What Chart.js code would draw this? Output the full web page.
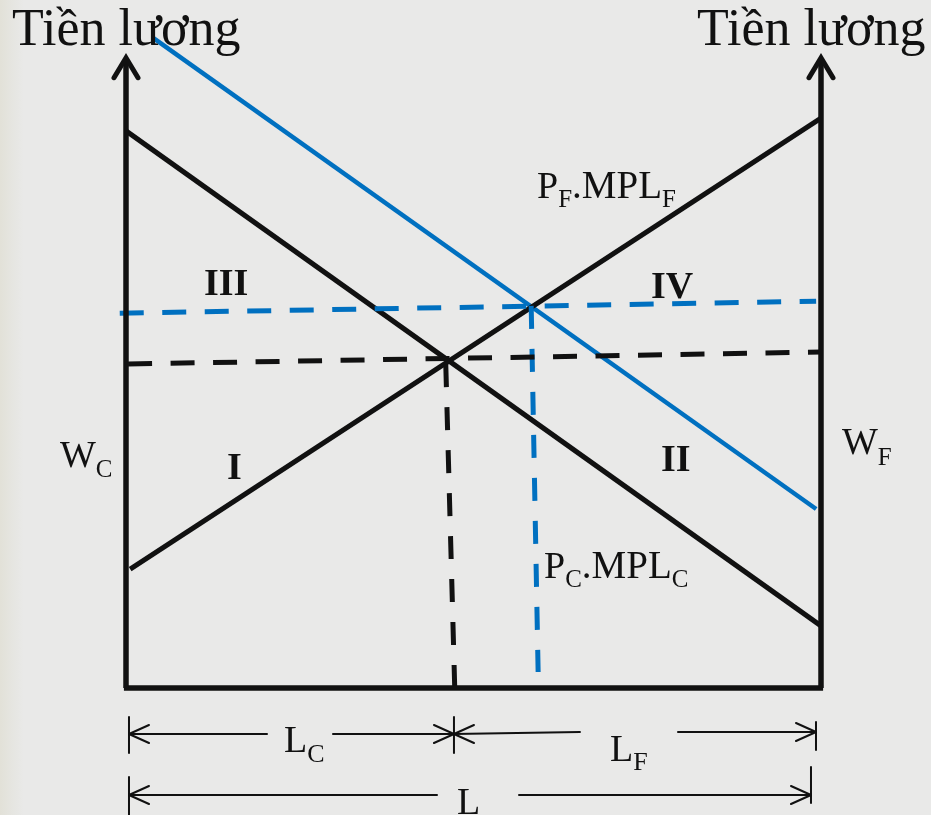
<!DOCTYPE html>
<html>
<head>
<meta charset="utf-8">
<script src="https://cdn.jsdelivr.net/npm/chart.js@4.4.0/dist/chart.umd.min.js"></script>
<style>
  html, body { margin: 0; padding: 0; }
  body {
    width: 931px; height: 815px; overflow: hidden;
    background: linear-gradient(to right, #e2e1d8 0px, #e6e6e2 14px, #e9e9e8 24px, #e9e9e8 100%);
  }
  canvas { display: block; }
</style>
</head>
<body>
<canvas id="labourChart" width="931" height="815"></canvas>
<script>
// x: labour (0 = left axis, 100 = total L at right axis), y: wage
const demandCX = [0, 100];          // P_C.MPL_C (black, falling)
const demandCY = [83.4, 9.3];
const demandFX = [0.6, 100];        // P_F.MPL_F (black, rising, measured from right)
const demandFY = [17.8, 85.3];
const demandC2X = [3.8, 99.3];      // shifted P_C.MPL_C (blue)
const demandC2Y = [97.4, 26.8];
const wageEqX = [0.3, 100];         // first equilibrium wage (black dashed)
const wageEqY = [48.5, 50.3];
const wageEq2X = [-0.9, 99.3];      // new equilibrium wage (blue dashed)
const wageEq2Y = [56.1, 57.9];
const labourEqX = [47.3, 46.0];     // L_C split (black dashed), drawn from the axis up
const labourEqY = [0, 48.8];
const labourEq2X = [58.3, 59.3];    // new split (blue dashed)
const labourEq2Y = [57.2, 2.4];
const axisTop = 94.8;

// dimension arrows under the axis (data units)
const dimLeft = 0.43, dimMid = 47.19, dimRight = 99.28, dimRight2 = 98.56;
const dimRow1 = -6.89, dimRow1b = -6.59, dimRow2 = -16.02;

const BLACK = "#111111";
const BLUE = "#0070c0";
const SERIF = '"Liberation Serif", "Times New Roman", serif';

const pts = (xs, ys) => xs.map((x, i) => ({ x: x, y: ys[i] }));

function lineSet(xs, ys, color, width, dash) {
  return {
    data: pts(xs, ys),
    showLine: true,
    borderColor: color,
    borderWidth: width,
    borderDash: dash || [],
    pointRadius: 0,
    fill: false,
    clip: false,
    borderCapStyle: "butt"
  };
}

const datasets = [
  lineSet([0, 0], [0, axisTop - 0.5], BLACK, 5.5),
  lineSet([100, 100], [0, axisTop - 0.5], BLACK, 5.5),
  lineSet([-0.3, 100.3], [0, 0], BLACK, 5.5),
  lineSet(wageEqX, wageEqY, BLACK, 5, [24, 18.5]),
  lineSet(labourEqX, labourEqY, BLACK, 5, [23, 20]),
  lineSet(wageEq2X, wageEq2Y, BLUE, 5, [24, 18.5]),
  lineSet(labourEq2X, labourEq2Y, BLUE, 5, [23, 20]),
  lineSet(demandCX, demandCY, BLACK, 5),
  lineSet(demandFX, demandFY, BLACK, 5),
  lineSet(demandC2X, demandC2Y, BLUE, 4.5)
];

function rich(ctx, x, y, parts) {
  parts.forEach(p => {
    ctx.font = (p.bold ? "bold " : "") + p.size + "px " + SERIF;
    ctx.fillText(p.t, x, y + (p.dy || 0));
    x += ctx.measureText(p.t).width;
  });
}

const annotations = {
  id: "annotations",
  afterDatasetsDraw(chart) {
    const ctx = chart.ctx;
    const xs = chart.scales.x, ys = chart.scales.y;
    const X = v => xs.getPixelForValue(v);
    const Y = v => ys.getPixelForValue(v);
    ctx.save();
    ctx.strokeStyle = BLACK;
    ctx.fillStyle = BLACK;
    ctx.lineCap = "round";
    ctx.lineJoin = "miter";

    // axis arrowheads
    ctx.lineWidth = 5;
    [0, 100].forEach(v => {
      const tx = X(v), ty = Y(axisTop) + 3;
      ctx.beginPath();
      ctx.moveTo(tx - 12, ty + 20);
      ctx.lineTo(tx, ty);
      ctx.lineTo(tx + 12, ty + 20);
      ctx.stroke();
    });

    // dimension lines
    ctx.lineJoin = "round";
    ctx.lineWidth = 2;
    const seg = (x1, y1, x2, y2) => {
      ctx.beginPath(); ctx.moveTo(X(x1), Y(y1)); ctx.lineTo(X(x2), Y(y2)); ctx.stroke();
    };
    const tick = (x, y1, y2) => seg(x, y1, x, y2);
    const head = (x, y, dir) => {
      const px = X(x), py = Y(y);
      ctx.beginPath();
      ctx.moveTo(px + dir * 20, py - 9);
      ctx.lineTo(px, py);
      ctx.lineTo(px + dir * 20, py + 9);
      ctx.stroke();
    };
    tick(dimLeft, -4.34, -9.73);
    tick(dimMid, -4.34, -9.73);
    tick(dimRight, -5.09, -9.28);
    seg(dimLeft, dimRow1, 20.29, dimRow1);
    seg(29.78, dimRow1, dimMid, dimRow1);
    head(dimLeft, dimRow1, 1);
    head(dimMid, dimRow1, -1);
    seg(dimMid, dimRow1, 65.32, dimRow1b);
    head(dimMid, dimRow1, 1);
    seg(79.42, dimRow1b, dimRight, dimRow1b);
    head(dimRight, dimRow1b, -1);

    tick(dimLeft, -13.32, -19.01);
    tick(dimRight2, -11.83, -17.22);
    seg(dimLeft, dimRow2, 44.75, dimRow2);
    head(dimLeft, dimRow2, 1);
    seg(56.55, dimRow2, dimRight2, dimRow2);
    head(dimRight2, dimRow2, -1);

    // text
    ctx.textBaseline = "alphabetic";
    ctx.textAlign = "left";
    rich(ctx, 12, 45, [{ t: "Tiền lương", size: 52 }]);
    rich(ctx, 697, 45, [{ t: "Tiền lương", size: 52 }]);
    rich(ctx, 537, 198, [
      { t: "P", size: 38 }, { t: "F", size: 25, dy: 9 },
      { t: ".MPL", size: 39 }, { t: "F", size: 25, dy: 9 }
    ]);
    rich(ctx, 544, 578, [
      { t: "P", size: 38 }, { t: "C", size: 25, dy: 9 },
      { t: ".MPL", size: 39 }, { t: "C", size: 25, dy: 9 }
    ]);
    rich(ctx, 204, 295, [{ t: "III", size: 38, bold: true }]);
    rich(ctx, 651, 298, [{ t: "IV", size: 38, bold: true }]);
    rich(ctx, 227, 479, [{ t: "I", size: 38, bold: true }]);
    rich(ctx, 661, 471, [{ t: "II", size: 38, bold: true }]);
    rich(ctx, 60, 467, [{ t: "W", size: 38 }, { t: "C", size: 25, dy: 10 }]);
    rich(ctx, 842, 454, [{ t: "W", size: 38 }, { t: "F", size: 25, dy: 11 }]);
    rich(ctx, 284, 752, [{ t: "L", size: 38 }, { t: "C", size: 26, dy: 10 }]);
    rich(ctx, 610, 761, [{ t: "L", size: 38 }, { t: "F", size: 26, dy: 9 }]);
    rich(ctx, 457, 814, [{ t: "L", size: 38 }]);
    ctx.restore();
  }
};

new Chart(document.getElementById("labourChart").getContext("2d"), {
  type: "scatter",
  data: { datasets: datasets },
  options: {
    responsive: false,
    animation: false,
    layout: { padding: { left: 126, right: 110, top: 20, bottom: 127 } },
    scales: {
      x: { type: "linear", min: 0, max: 100, display: false },
      y: { type: "linear", min: 0, max: 100, display: false }
    },
    plugins: {
      legend: { display: false },
      tooltip: { enabled: false }
    }
  },
  plugins: [annotations]
});
</script>
</body>
</html>
